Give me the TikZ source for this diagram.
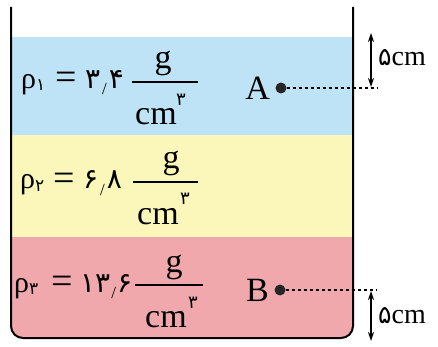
\documentclass[tikz,border=0pt]{standalone}
\usepackage{fontspec}
\setmainfont{Liberation Serif}
\newfontfamily\fadigits{DejaVu Sans}
\usetikzlibrary{arrows.meta}
\definecolor{layerblue}{RGB}{190,227,246}
\definecolor{layeryellow}{RGB}{251,246,185}
\definecolor{layerpink}{RGB}{241,168,173}
\newcommand\subdig[1]{\raisebox{-2pt}{\fadigits\fontsize{17}{17}\selectfont #1}}
\newcommand\numdig[1]{{\fadigits\fontsize{28}{30}\selectfont #1}}
\newcommand\decsep[1][2pt]{\kern#1\raisebox{-6pt}{\fontsize{17}{17}\selectfont /}\kern#1}
\begin{document}
\begin{tikzpicture}[x=1pt,y=-1pt,
  wall/.style={line width=2pt, line join=round},
  dashline/.style={line width=1.2pt, dash pattern=on 3.5pt off 2.5pt},
  dimarrow/.style={line width=1.4pt, {Stealth[length=9pt,width=6pt]}-{Stealth[length=9pt,width=6pt]}},
  dot/.style={circle, fill=black!85, inner sep=0pt, minimum size=11pt},
  txt/.style={inner sep=0pt, font=\fontsize{34}{36}\selectfont},
  rhotxt/.style={inner sep=0pt, font=\fontsize{30}{32}\selectfont},
  eqtxt/.style={inner sep=0pt, font=\fontsize{38}{40}\selectfont},
  dimtxt/.style={inner sep=0pt, font=\fontsize{28}{30}\selectfont},
  fracbar/.style={line width=1.6pt},
  supdig/.style={inner sep=0pt, font=\fadigits\fontsize{18}{18}\selectfont},
]
\useasboundingbox (0,0) rectangle (438,347);
% layers
\fill[layerblue] (11,37) rectangle (353,135);
\fill[layeryellow] (11,135) rectangle (353,237);
\fill[layerpink] (11,237) -- (11,326) arc[start angle=180,end angle=90,radius=12]
  -- (341,338) arc[start angle=90,end angle=0,radius=12] -- (353,237) -- cycle;
% container
\draw[wall] (11,7) -- (11,326) arc[start angle=180,end angle=90,radius=12]
  -- (341,338) arc[start angle=90,end angle=0,radius=12] -- (353,7);

% row 1
\node[rhotxt, anchor=base west] (rho1) at (21,89) {ρ\subdig{۱}};
\node[eqtxt, anchor=base] (eq1) at (66,90) {=};
\node[anchor=base west, inner sep=0pt] (n1) at (85,89) {\numdig{۳}\decsep\numdig{۴}};
\coordinate (b1l) at (132,82); \coordinate (b1r) at (198,82);
\draw[fracbar] (b1l) -- (b1r);
\node[txt, anchor=base] (g1) at (163,69) {g};
\node[txt, anchor=base west] (cm1) at (135,125) {cm};
\node[supdig, anchor=south west] (s1) at (176,106) {۳};

% row 2
\node[rhotxt, anchor=base west] (rho2) at (20,189) {ρ\subdig{۲}};
\node[eqtxt, anchor=base] (eq2) at (64,190) {=};
\node[anchor=base west, inner sep=0pt] (n2) at (83,189) {\numdig{۶}\decsep\numdig{۸}};
\coordinate (b2l) at (133,182); \coordinate (b2r) at (198,182);
\draw[fracbar] (b2l) -- (b2r);
\node[txt, anchor=base] (g2) at (171,169) {g};
\node[txt, anchor=base west] (cm2) at (137,224) {cm};
\node[supdig, anchor=south west] (s2) at (180,205) {۳};

% row 3
\node[rhotxt, anchor=base west] (rho3) at (14,292) {ρ\subdig{۳}};
\node[eqtxt, anchor=base] (eq3) at (62,293) {=};
\node[anchor=base west, inner sep=0pt] (n3) at (80,292) {\numdig{۱۳}\decsep[1pt]\numdig{۶}};
\coordinate (b3l) at (135,285); \coordinate (b3r) at (203,285);
\draw[fracbar] (b3l) -- (b3r);
\node[txt, anchor=base] (g3) at (174,272) {g};
\node[txt, anchor=base west] (cm3) at (145,327) {cm};
\node[supdig, anchor=south west] (s3) at (188,309) {۳};

% point A
\node[dot] (A) at (281,88) {};
\node[txt, anchor=east] (Alab) at (270,88) {A};
\coordinate (Aend) at (377,88);
\draw[dashline] (A) -- (Aend);
\coordinate (Atop) at (371,33);
\coordinate (Abot) at (371,87);
\draw[dimarrow] (Atop) -- (Abot);
\node[dimtxt, anchor=west] (Adim) at (378,58) {{\fadigits\fontsize{25}{26}\selectfont ۵}cm};

% point B
\node[dot] (B) at (280,290) {};
\node[txt, anchor=east] (Blab) at (269,290) {B};
\coordinate (Bend) at (377,290);
\draw[dashline] (B) -- (Bend);
\coordinate (Btop) at (371,291);
\coordinate (Bbot) at (371,341);
\draw[dimarrow] (Btop) -- (Bbot);
\node[dimtxt, anchor=west] (Bdim) at (378,316) {{\fadigits\fontsize{25}{26}\selectfont ۵}cm};
\end{tikzpicture}
\end{document}
